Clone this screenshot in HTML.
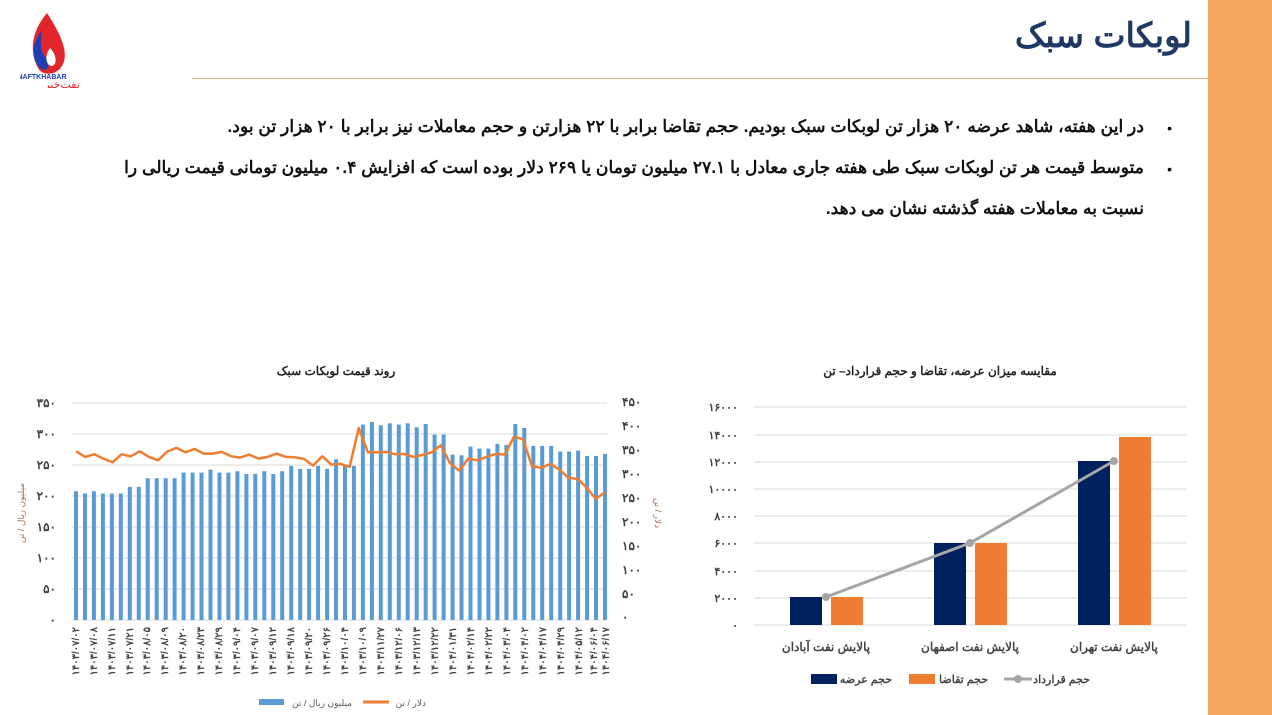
<!DOCTYPE html>
<html><head><meta charset="utf-8">
<style>
body{margin:0;width:1272px;height:715px;background:#fff;position:relative;overflow:hidden;font-family:"Liberation Sans","Noto Sans CJK SC",sans-serif}
.band{position:absolute;left:1208px;top:0;width:64px;height:715px;background:#f9a862}
.hl{position:absolute;left:192px;top:78px;width:1016px;height:1px;background:#f4b183}
.title{position:absolute;right:80px;top:16px;font-size:34px;font-weight:bold;color:#1f3864;direction:rtl}
.p{position:absolute;right:128px;direction:rtl;font-size:17.2px;font-weight:bold;color:#111;text-align:right;white-space:nowrap}
.dot{position:absolute;right:100px;font-size:14px}
</style></head><body>
<div class="band"></div>
<div class="hl"></div>
<div class="title">لوبکات سبک</div>
<svg style="position:absolute;left:20px;top:8px" width="60" height="80">
<path d="M27 5 C10 25,10 45,18 60 C22 68,36 68,42 58 C50 45,40 25,27 5Z" fill="#e3262b"/>
<path d="M22 22 C10 38,12 52,20 60 C28 66,30 56,28 52 C20 45,20 35,22 22Z" fill="#1f3fb5"/>
<path d="M30 40 C24 48,26 58,32 58 C38 56,36 46,30 40Z" fill="#fff"/>
<text x="22" y="71" font-size="7" font-weight="bold" fill="#1f3fb5" text-anchor="middle">NAFTKHABAR</text>
<text x="42" y="80" font-size="11" fill="#e3262b" text-anchor="middle" font-family="Noto Sans CJK SC,sans-serif">نفت‌خبر</text>
</svg>
<div class="dot" style="top:120px">•</div>
<div class="p" style="top:116px">در این هفته، شاهد عرضه ۲۰ هزار تن لوبکات سبک بودیم. حجم تقاضا برابر با ۲۲ هزارتن و حجم معاملات نیز برابر با ۲۰ هزار تن بود.</div>
<div class="dot" style="top:161px">•</div>
<div class="p" style="top:157px">متوسط قیمت هر تن لوبکات سبک طی هفته جاری معادل با ۲۷.۱ میلیون تومان یا ۲۶۹ دلار بوده است که افزایش ۰.۴ میلیون تومانی قیمت ریالی را</div>
<div class="p" style="top:198px">نسبت به معاملات هفته گذشته نشان می دهد.</div>

<svg id="L" style="position:absolute;left:0;top:355px" width="690" height="360" font-family="Liberation Sans,Noto Sans CJK SC,sans-serif">
<text x="336" y="20" font-size="12" font-weight="bold" text-anchor="middle" fill="#222">روند قیمت لوبکات سبک</text>
<g stroke="#d9d9d9" stroke-width="1">
<line x1="72" x2="607" y1="48" y2="48"/><line x1="72" x2="607" y1="79" y2="79"/><line x1="72" x2="607" y1="110" y2="110"/><line x1="72" x2="607" y1="141" y2="141"/><line x1="72" x2="607" y1="172" y2="172"/><line x1="72" x2="607" y1="203" y2="203"/><line x1="72" x2="607" y1="234" y2="234"/><line x1="72" x2="607" y1="265" y2="265"/></g>
<g font-size="12" font-weight="bold" fill="#404040" text-anchor="end">
<text x="56" y="52">۳۵۰</text><text x="56" y="83">۳۰۰</text><text x="56" y="114">۲۵۰</text><text x="56" y="145">۲۰۰</text><text x="56" y="176">۱۵۰</text><text x="56" y="207">۱۰۰</text><text x="56" y="238">۵۰</text><text x="56" y="269">۰</text></g>
<g font-size="12" font-weight="bold" fill="#404040">
<text x="622" y="51">۴۵۰</text><text x="622" y="75">۴۰۰</text><text x="622" y="99">۳۵۰</text><text x="622" y="123">۳۰۰</text><text x="622" y="147">۲۵۰</text><text x="622" y="171">۲۰۰</text><text x="622" y="195">۱۵۰</text><text x="622" y="219">۱۰۰</text><text x="622" y="243">۵۰</text><text x="622" y="266">۰</text></g>
<text transform="translate(24,158) rotate(-90)" font-size="9" fill="#b07050" text-anchor="middle">میلیون ریال / تن</text>
<text transform="translate(655,158) rotate(90)" font-size="9" fill="#b07050" text-anchor="middle">دلار / تن</text>
<g id="bars" fill="#5b9bd5"></g>
<polyline id="ln" fill="none" stroke="#ed7d31" stroke-width="2.5" stroke-linejoin="round"/>
<g font-size="10" font-weight="bold" fill="#444" text-anchor="end" id="lbl">
<text transform="translate(79,272) rotate(-90)">۱۴۰۳/۰۷/۰۲</text><text transform="translate(97,272) rotate(-90)">۱۴۰۳/۰۷/۰۸</text><text transform="translate(115,272) rotate(-90)">۱۴۰۳/۰۷/۱۱</text><text transform="translate(133,272) rotate(-90)">۱۴۰۳/۰۷/۲۱</text><text transform="translate(150,272) rotate(-90)">۱۴۰۳/۰۸/۰۵</text><text transform="translate(168,272) rotate(-90)">۱۴۰۳/۰۸/۰۹</text><text transform="translate(186,272) rotate(-90)">۱۴۰۳/۰۸/۲۰</text><text transform="translate(204,272) rotate(-90)">۱۴۰۳/۰۸/۲۳</text><text transform="translate(222,272) rotate(-90)">۱۴۰۳/۰۸/۲۹</text><text transform="translate(240,272) rotate(-90)">۱۴۰۳/۰۹/۰۴</text><text transform="translate(258,272) rotate(-90)">۱۴۰۳/۰۹/۰۷</text><text transform="translate(276,272) rotate(-90)">۱۴۰۳/۰۹/۱۲</text><text transform="translate(294,272) rotate(-90)">۱۴۰۳/۰۹/۱۸</text><text transform="translate(312,272) rotate(-90)">۱۴۰۳/۰۹/۲۰</text><text transform="translate(330,272) rotate(-90)">۱۴۰۳/۰۹/۲۶</text><text transform="translate(348,272) rotate(-90)">۱۴۰۳/۱۰/۰۴</text><text transform="translate(366,272) rotate(-90)">۱۴۰۳/۱۰/۰۹</text><text transform="translate(384,272) rotate(-90)">۱۴۰۳/۱۱/۲۷</text><text transform="translate(402,272) rotate(-90)">۱۴۰۳/۱۲/۰۶</text><text transform="translate(420,272) rotate(-90)">۱۴۰۳/۱۲/۱۳</text><text transform="translate(438,272) rotate(-90)">۱۴۰۳/۱۲/۲۲</text><text transform="translate(456,272) rotate(-90)">۱۴۰۴/۰۱/۳۱</text><text transform="translate(474,272) rotate(-90)">۱۴۰۴/۰۲/۱۴</text><text transform="translate(492,272) rotate(-90)">۱۴۰۴/۰۲/۲۲</text><text transform="translate(510,272) rotate(-90)">۱۴۰۴/۰۳/۰۴</text><text transform="translate(528,272) rotate(-90)">۱۴۰۴/۰۴/۰۲</text><text transform="translate(546,272) rotate(-90)">۱۴۰۴/۰۴/۱۷</text><text transform="translate(564,272) rotate(-90)">۱۴۰۴/۰۴/۲۹</text><text transform="translate(582,272) rotate(-90)">۱۴۰۴/۰۵/۱۲</text><text transform="translate(597,272) rotate(-90)">۱۴۰۴/۰۶/۰۴</text><text transform="translate(609,272) rotate(-90)">۱۴۰۴/۰۶/۱۷</text></g>
<rect x="259" y="344" width="25" height="6" fill="#5b9bd5"/><text x="352" y="351" font-size="9" fill="#595959" text-anchor="end">میلیون ریال / تن</text>
<line x1="363" x2="389" y1="347" y2="347" stroke="#ed7d31" stroke-width="3"/><text x="426" y="351" font-size="9" fill="#595959" text-anchor="end">دلار / تن</text>
</svg>
<script>
var bt=[395,402,395,402,402,402,382,382,356,356,356,356,339,339,339,330,339,339,335,343,343,335,343,335,319,328,328,319,328,299,319,319,195,187,197,191,195,191,203,193,225,225,285,287,261,267,267,253,256,193,205,259,259,259,276,276,273,289,289,283];
var lt=[275,292,284,297,308,284,290,275,292,302,276,265,278,268,282,282,277,290,294,285,297,292,282,292,293,298,318,290,315,313,322,205,278,278,277,284,283,292,286,278,257,310,333,297,302,292,283,285,232,238,320,325,313,330,355,358,385,418,398];
var g=document.getElementById('bars'),s='',pts=[];
for(var i=0;i<bt.length;i++){var x=76+i*529/59,y=48+(bt[i]-130)/3.004;s+='<rect x="'+(x-2).toFixed(1)+'" y="'+y.toFixed(1)+'" width="4" height="'+(265-y).toFixed(1)+'"/>';}
g.innerHTML=s;
var n=lt.length;for(var i=0;i<n;i++){var x=76+i*529/(n-1),y=48+(lt[i]-130)/3.004;pts.push(x.toFixed(1)+','+y.toFixed(1));}
document.getElementById('ln').setAttribute('points',pts.join(' '));
</script>

<svg style="position:absolute;left:690px;top:355px" width="520" height="360" font-family="Liberation Sans,Noto Sans CJK SC,sans-serif">
<text x="250" y="20" font-size="12" font-weight="bold" text-anchor="middle" fill="#222">مقایسه میزان عرضه، تقاضا و حجم قرارداد– تن</text>
<g stroke="#d9d9d9"><line x1="64" x2="497" y1="52" y2="52"/><line x1="64" x2="497" y1="80" y2="80"/><line x1="64" x2="497" y1="107" y2="107"/><line x1="64" x2="497" y1="134" y2="134"/><line x1="64" x2="497" y1="161" y2="161"/><line x1="64" x2="497" y1="188" y2="188"/><line x1="64" x2="497" y1="216" y2="216"/><line x1="64" x2="497" y1="243" y2="243"/><line x1="64" x2="497" y1="270" y2="270"/></g>
<g font-size="11" font-weight="bold" fill="#404040" text-anchor="end"><text x="48" y="56">۱۶۰۰۰</text><text x="48" y="84">۱۴۰۰۰</text><text x="48" y="111">۱۲۰۰۰</text><text x="48" y="138">۱۰۰۰۰</text><text x="48" y="165">۸۰۰۰</text><text x="48" y="192">۶۰۰۰</text><text x="48" y="220">۴۰۰۰</text><text x="48" y="247">۲۰۰۰</text><text x="48" y="274">۰</text></g>
<g fill="#002060"><rect x="100" y="242" width="32" height="28"/><rect x="244" y="188" width="32" height="82"/><rect x="388" y="106" width="32" height="164"/></g>
<g fill="#ed7d31"><rect x="141" y="242" width="32" height="28"/><rect x="285" y="188" width="32" height="82"/><rect x="429" y="82" width="32" height="188"/></g>
<polyline points="136,242 280,188 424,106" fill="none" stroke="#a5a5a5" stroke-width="3"/>
<g fill="#a5a5a5"><circle cx="136" cy="242" r="4"/><circle cx="280" cy="188" r="4"/><circle cx="424" cy="106" r="4"/></g>
<g font-size="12" font-weight="bold" fill="#444" text-anchor="middle"><text x="136" y="296">پالایش نفت آبادان</text><text x="280" y="296">پالایش نفت اصفهان</text><text x="424" y="296">پالایش نفت تهران</text></g>
<rect x="121" y="319" width="26" height="10" fill="#002060"/><text x="202" y="328" font-size="11" font-weight="bold" text-anchor="end" fill="#444">حجم عرضه</text>
<rect x="219" y="319" width="26" height="10" fill="#ed7d31"/><text x="298" y="328" font-size="11" font-weight="bold" text-anchor="end" fill="#444">حجم تقاضا</text>
<line x1="314" x2="342" y1="324" y2="324" stroke="#a5a5a5" stroke-width="3"/><circle cx="328" cy="324" r="4" fill="#a5a5a5"/><text x="400" y="328" font-size="11" font-weight="bold" text-anchor="end" fill="#444">حجم قرارداد</text>
</svg>
</body></html>
